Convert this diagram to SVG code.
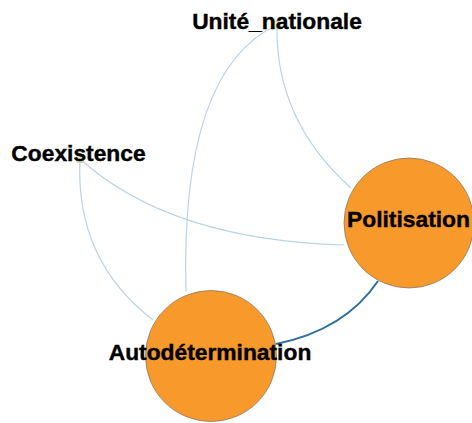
<svg xmlns="http://www.w3.org/2000/svg" width="472" height="423" viewBox="0 0 472 423">
<style>
.e{fill:none;stroke:#b9d3e8;stroke-width:1.2}
.ed{fill:none;stroke:#2e6f9e;stroke-width:2}
.big{fill:#f7992b;stroke:#8a7a6a;stroke-width:0.8}
.small{fill:#f2f0b8;stroke:#c8c890;stroke-width:0.8}
.t{font-family:"Liberation Sans",Arial,sans-serif;font-weight:bold;font-size:22.8px;fill:#000;stroke:#000;stroke-width:0.4}
</style>
<rect width="472" height="423" fill="#fff"/>
<g id="connectors">
<path class="e" d="M277,25 Q275,120 351,188"/>
<path class="e" d="M277,25 Q180,70 186,292"/>
<path class="e" d="M80,159 Q170,240 344,245"/>
<path class="e" d="M80,159 Q75,260 153,320"/>
<path class="ed" d="M378,281 Q345,330 276,344"/>
</g>
<g id="Unite_nationale">
<circle class="small" cx="277" cy="25" r="4"/>
<text class="t" x="277" y="29" text-anchor="middle">Unité_nationale</text>
</g>
<g id="Coexistence">
<circle class="small" cx="80" cy="159" r="4"/>
<text class="t" x="78.5" y="161" text-anchor="middle">Coexistence</text>
</g>
<g id="Politisation">
<circle class="big" cx="409" cy="223" r="65"/>
<text class="t" x="408.5" y="227" text-anchor="middle">Politisation</text>
</g>
<g id="Autodetermination">
<circle class="big" cx="211" cy="356" r="65.5"/>
<text class="t" x="210" y="360" text-anchor="middle">Autodétermination</text>
</g>
</svg>
